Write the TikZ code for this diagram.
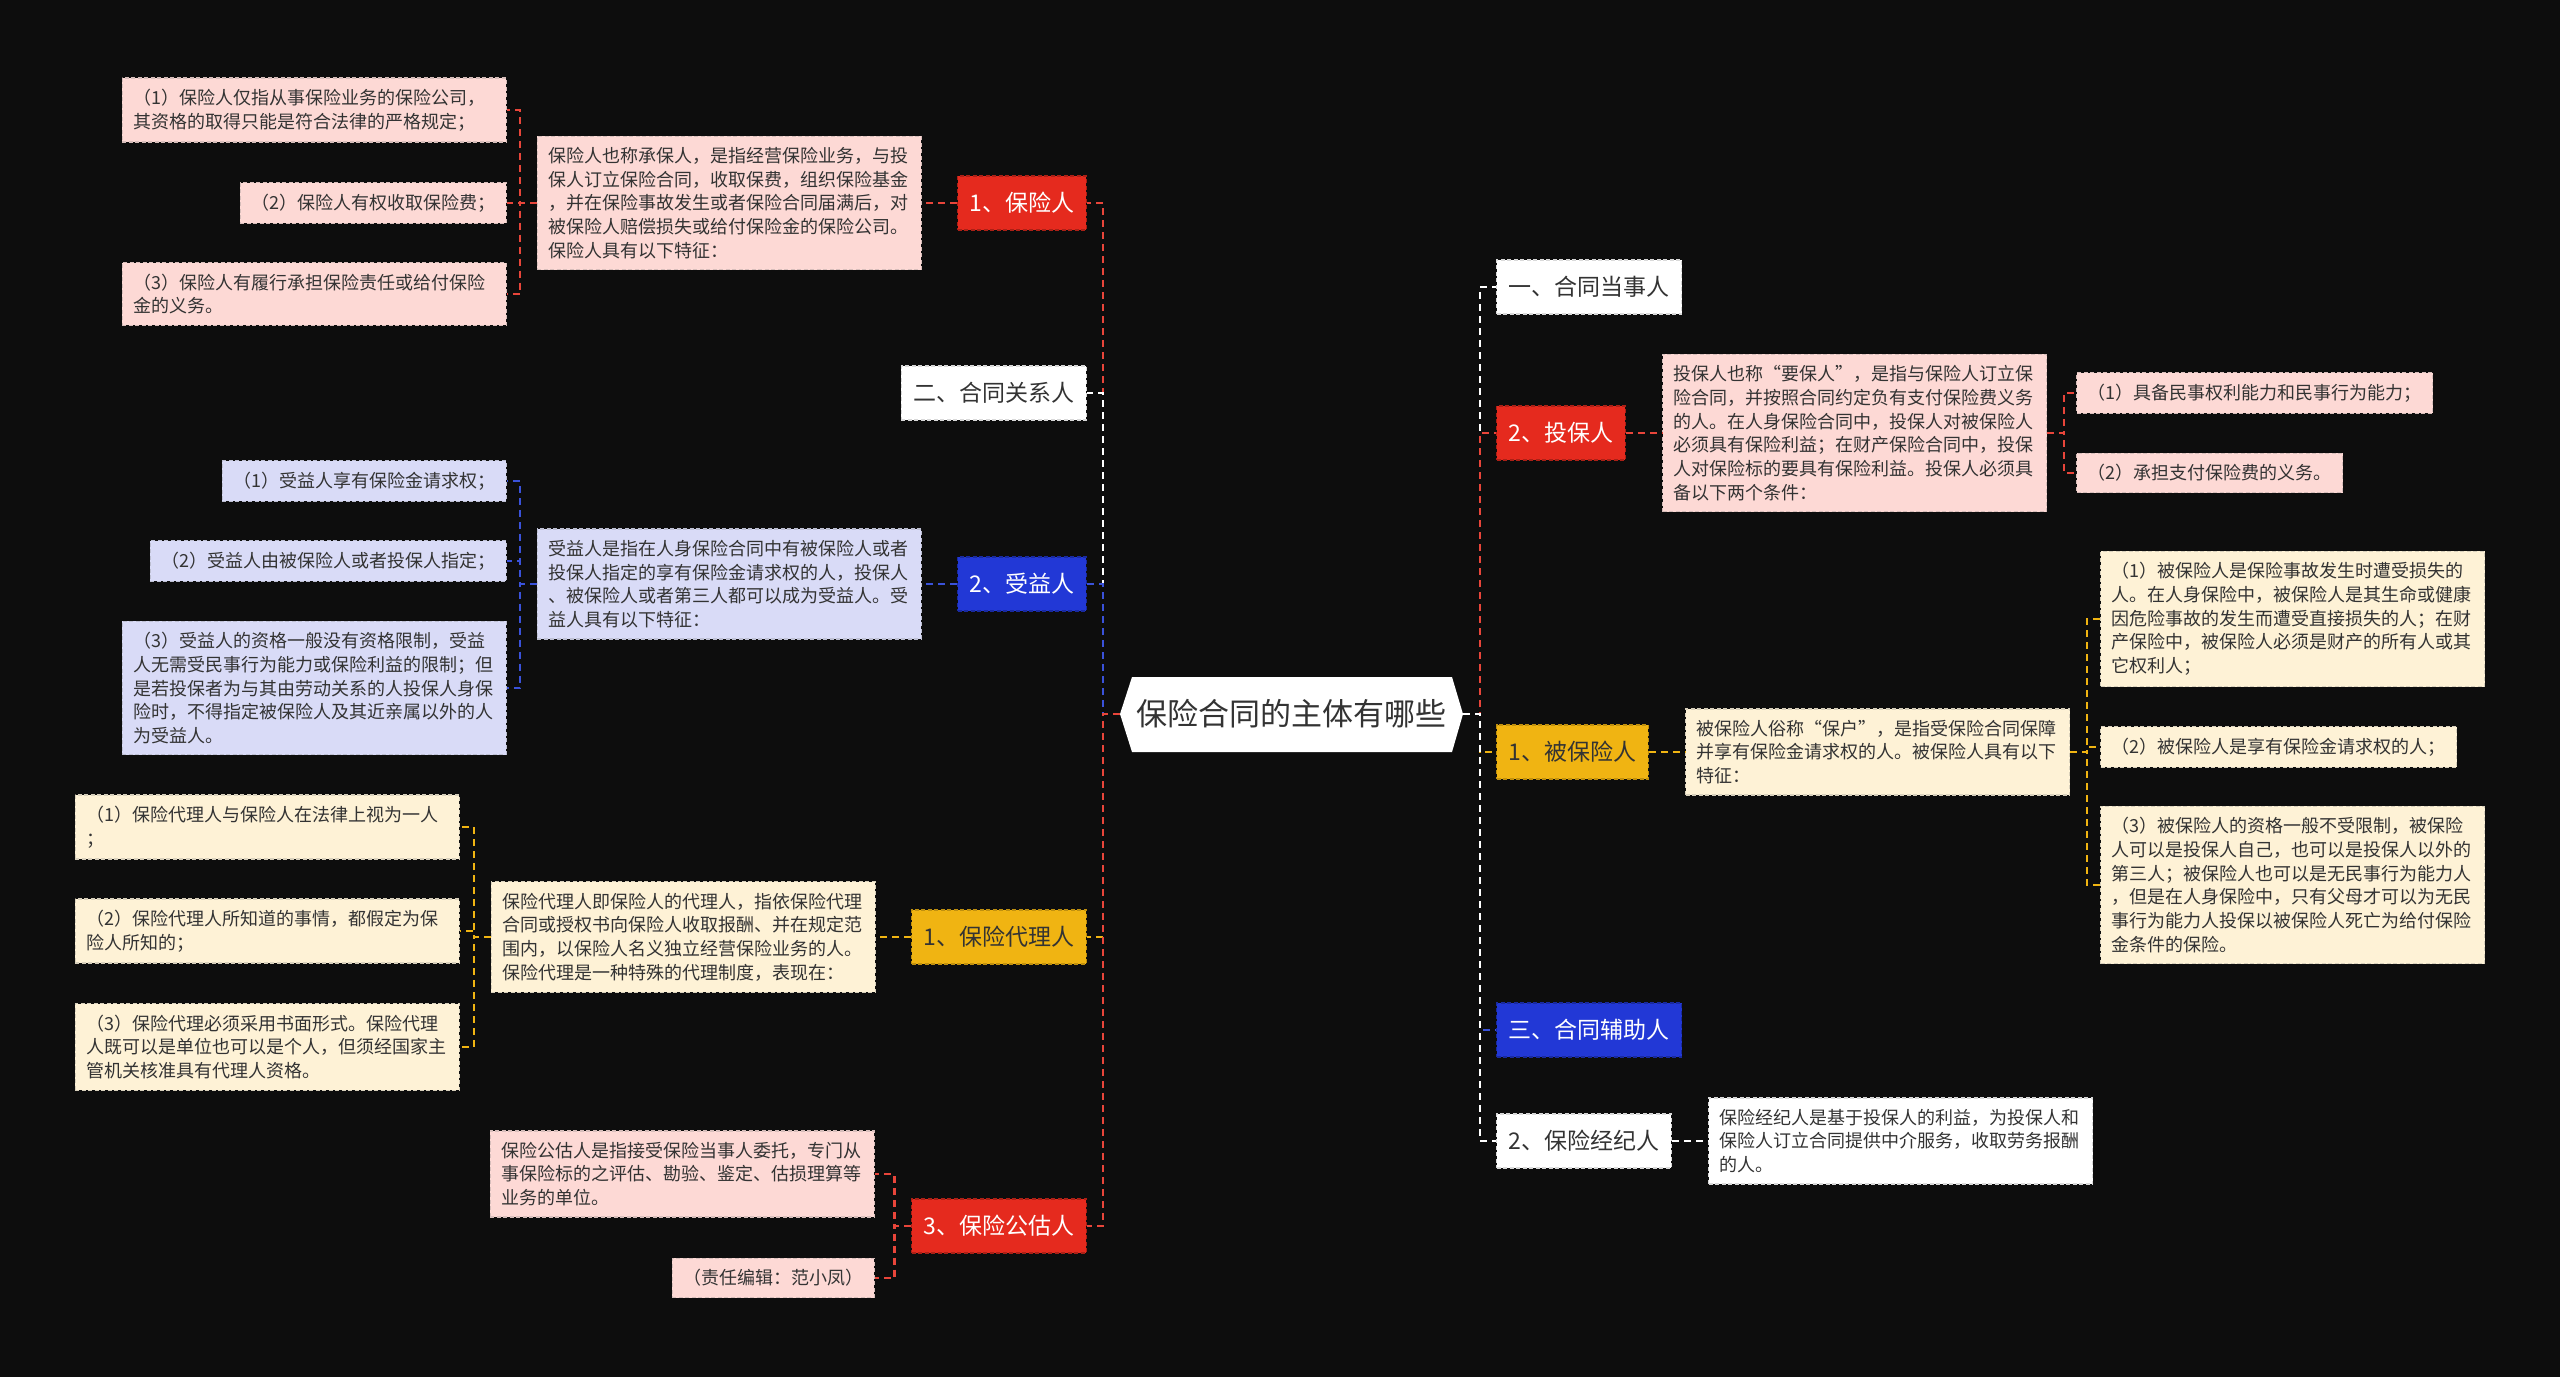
\documentclass[tikz,border=0pt]{standalone}
\usepackage{fontspec}
\setmainfont{Noto Sans CJK SC}
\usetikzlibrary{calc}
\newcommand\myfs[2]{\fontsize{#1pt}{#2pt}\selectfont}
\definecolor{bg}{HTML}{0D0D0D}
\definecolor{tdark}{HTML}{333333}
\definecolor{cred}{HTML}{E52A1E}
\definecolor{cblue}{HTML}{2238D6}
\definecolor{cyel}{HTML}{F0B412}
\definecolor{lred}{HTML}{E8453A}
\definecolor{lblue}{HTML}{3A52DA}
\definecolor{pinkf}{HTML}{FDD9D5}
\definecolor{lavf}{HTML}{D9DBF7}
\definecolor{creamf}{HTML}{FEF2D6}
\tikzset{
  base/.style={inner xsep=11pt, inner ysep=11pt, font=\myfs{18}{23.7}, text=tdark, align=left,
    draw, dash pattern=on 4pt off 2.5pt, line width=1.2pt},
  desc/.style={base, text width=362pt},
  pinkbox/.style={fill=pinkf, draw=pinkf!70!gray},
  lavbox/.style={fill=lavf, draw=lavf!70!gray},
  creambox/.style={fill=creamf, draw=creamf!70!gray},
  whitebox/.style={fill=white, draw=white!70!gray},
  mainbox/.style={font=\myfs{23}{28}, inner xsep=12pt, inner ysep=0pt, minimum height=54pt,
    draw, dash pattern=on 4pt off 2.5pt, line width=1.2pt},
  mred/.style={mainbox, fill=cred, draw=cred!75!black, text=white},
  mblue/.style={mainbox, fill=cblue, draw=cblue!75!black, text=white},
  myel/.style={mainbox, fill=cyel, draw=cyel!80!black, text=tdark},
  mwhite/.style={mainbox, fill=white, draw=white!70!gray, text=tdark},
  conn/.style={dash pattern=on 7pt off 5pt, line width=2.2pt},
}
\begin{document}
\begin{tikzpicture}[x=1pt,y=-1pt]
\useasboundingbox (0,0) rectangle (2560,1377);
\fill[bg] (0,0) rectangle (2560,1377);

% root
\fill[white] (1120,714) -- (1132,677) -- (1452,677) -- (1463,714) -- (1452,752) -- (1132,752) -- cycle;
\node[font=\myfs{31}{36}, text=tdark, minimum width=343pt, minimum height=75pt, inner sep=0pt] (root) at (1291.5,714) {保险合同的主体有哪些};

% ---------- left side ----------
\node[mred, anchor=east] (b1) at (1087,203) {1、保险人};
\node[desc, pinkbox, anchor=east] (l1d) at (922,203) {保险人也称承保人，是指经营保险业务，与投\\保人订立保险合同，收取保费，组织保险基金\\，并在保险事故发生或者保险合同届满后，对\\被保险人赔偿损失或给付保险金的保险公司。\\保险人具有以下特征：};
\node[desc, pinkbox, anchor=east] (l1a) at (507,110) {（1）保险人仅指从事保险业务的保险公司，\\其资格的取得只能是符合法律的严格规定；};
\node[base, pinkbox, anchor=east] (l1b) at (507,203) {（2）保险人有权收取保险费；};
\node[desc, pinkbox, anchor=east] (l1c) at (507,294) {（3）保险人有履行承担保险责任或给付保险\\金的义务。};

\node[mwhite, anchor=east] (b2) at (1087,393) {二、合同关系人};

\node[mblue, anchor=east] (b3) at (1087,584) {2、受益人};
\node[desc, lavbox, anchor=east] (l2d) at (922,584) {受益人是指在人身保险合同中有被保险人或者\\投保人指定的享有保险金请求权的人，投保人\\、被保险人或者第三人都可以成为受益人。受\\益人具有以下特征：};
\node[base, lavbox, anchor=east] (l2a) at (507,481) {（1）受益人享有保险金请求权；};
\node[base, lavbox, anchor=east] (l2b) at (507,561) {（2）受益人由被保险人或者投保人指定；};
\node[desc, lavbox, anchor=east] (l2c) at (507,688) {（3）受益人的资格一般没有资格限制，受益\\人无需受民事行为能力或保险利益的限制；但\\是若投保者为与其由劳动关系的人投保人身保\\险时，不得指定被保险人及其近亲属以外的人\\为受益人。};

\node[myel, anchor=east] (b4) at (1087,937) {1、保险代理人};
\node[desc, creambox, anchor=east] (l3d) at (876,937) {保险代理人即保险人的代理人，指依保险代理\\合同或授权书向保险人收取报酬、并在规定范\\围内，以保险人名义独立经营保险业务的人。\\保险代理是一种特殊的代理制度，表现在：};
\node[desc, creambox, anchor=east] (l3a) at (460,827) {（1）保险代理人与保险人在法律上视为一人\\；};
\node[desc, creambox, anchor=east] (l3b) at (460,931) {（2）保险代理人所知道的事情，都假定为保\\险人所知的；};
\node[desc, creambox, anchor=east] (l3c) at (460,1047) {（3）保险代理必须采用书面形式。保险代理\\人既可以是单位也可以是个人，但须经国家主\\管机关核准具有代理人资格。};

\node[mred, anchor=east] (b5) at (1087,1226) {3、保险公估人};
\node[desc, pinkbox, anchor=east] (l4a) at (875,1174) {保险公估人是指接受保险当事人委托，专门从\\事保险标的之评估、勘验、鉴定、估损理算等\\业务的单位。};
\node[base, pinkbox, anchor=east] (l4b) at (875,1278) {（责任编辑：范小凤）};

% ---------- right side ----------
\node[mwhite, anchor=west] (r1) at (1496,287) {一、合同当事人};

\node[mred, anchor=west] (r2) at (1496,433) {2、投保人};
\node[desc, pinkbox, anchor=west] (r2d) at (1662,433) {投保人也称“要保人”，是指与保险人订立保\\险合同，并按照合同约定负有支付保险费义务\\的人。在人身保险合同中，投保人对被保险人\\必须具有保险利益；在财产保险合同中，投保\\人对保险标的要具有保险利益。投保人必须具\\备以下两个条件：};
\node[base, pinkbox, anchor=west] (r2a) at (2076,393) {（1）具备民事权利能力和民事行为能力；};
\node[base, pinkbox, anchor=west] (r2b) at (2076,473) {（2）承担支付保险费的义务。};

\node[myel, anchor=west] (r3) at (1496,752) {1、被保险人};
\node[desc, creambox, anchor=west] (r3d) at (1685,752) {被保险人俗称“保户”，是指受保险合同保障\\并享有保险金请求权的人。被保险人具有以下\\特征：};
\node[desc, creambox, anchor=west] (r3a) at (2100,619) {（1）被保险人是保险事故发生时遭受损失的\\人。在人身保险中，被保险人是其生命或健康\\因危险事故的发生而遭受直接损失的人；在财\\产保险中，被保险人必须是财产的所有人或其\\它权利人；};
\node[base, creambox, anchor=west] (r3b) at (2100,747) {（2）被保险人是享有保险金请求权的人；};
\node[desc, creambox, anchor=west] (r3c) at (2100,885) {（3）被保险人的资格一般不受限制，被保险\\人可以是投保人自己，也可以是投保人以外的\\第三人；被保险人也可以是无民事行为能力人\\，但是在人身保险中，只有父母才可以为无民\\事行为能力人投保以被保险人死亡为给付保险\\金条件的保险。};

\node[mblue, anchor=west] (r4) at (1496,1030) {三、合同辅助人};
\node[mwhite, anchor=west] (r5) at (1496,1141) {2、保险经纪人};
\node[desc, whitebox, anchor=west] (r5d) at (1708,1141) {保险经纪人是基于投保人的利益，为投保人和\\保险人订立合同提供中介服务，收取劳务报酬\\的人。};

% ---------- connectors ----------
\coordinate (sL) at (1103,714);
\coordinate (sR) at (1480,714);
\draw[conn, lred] (root.west) -- (sL) |- (b1.east);
\draw[conn, white] (root.west) -- (sL) |- (b2.east);
\draw[conn, lblue] (root.west) -- (sL) |- (b3.east);
\draw[conn, cyel] (root.west) -- (sL) |- (b4.east);
\draw[conn, lred] (root.west) -- (sL) |- (b5.east);

\draw[conn, white] (root.east) -- (sR) |- (r1.west);
\draw[conn, lred] (root.east) -- (sR) |- (r2.west);
\draw[conn, cyel] (root.east) -- (sR) |- (r3.west);
\draw[conn, lblue] (root.east) -- (sR) |- (r4.west);
\draw[conn, white] (root.east) -- (sR) |- (r5.west);

% left sub
\draw[conn, lred] (b1.west) -- (l1d.east);
\foreach \c in {l1a,l1b,l1c} \draw[conn, lred] (l1d.west) -- ++(-16.5,0) |- (\c.east);
\draw[conn, lblue] (b3.west) -- (l2d.east);
\foreach \c in {l2a,l2b,l2c} \draw[conn, lblue] (l2d.west) -- ++(-16.5,0) |- (\c.east);
\draw[conn, cyel] (b4.west) -- (l3d.east);
\foreach \c in {l3a,l3b,l3c} \draw[conn, cyel] (l3d.west) -- ++(-17,0) |- (\c.east);
\foreach \c in {l4a,l4b} \draw[conn, lred] (b5.west) -- ++(-16.5,0) |- (\c.east);

% right sub
\draw[conn, lred] (r2.east) -- (r2d.west);
\foreach \c in {r2a,r2b} \draw[conn, lred] (r2d.east) -- ++(17,0) |- (\c.west);
\draw[conn, cyel] (r3.east) -- (r3d.west);
\foreach \c in {r3a,r3b,r3c} \draw[conn, cyel] (r3d.east) -- ++(17,0) |- (\c.west);
\draw[conn, white] (r5.east) -- (r5d.west);
\end{tikzpicture}
\end{document}
